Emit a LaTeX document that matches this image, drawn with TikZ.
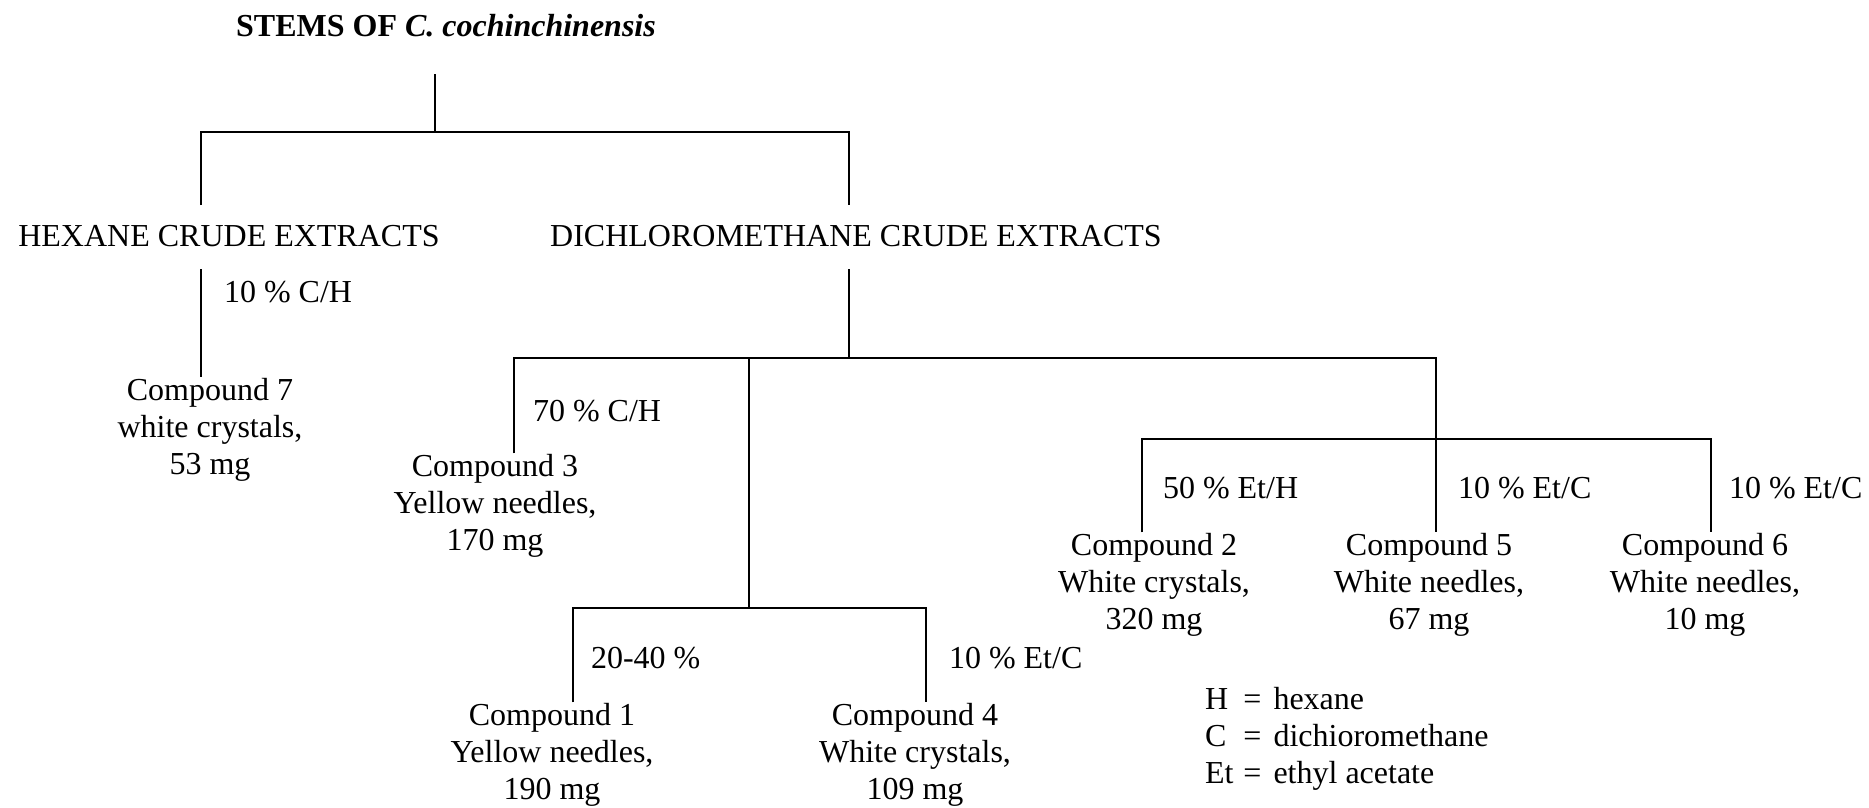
\documentclass[tikz,border=0pt]{standalone}
\usepackage{fontspec}
\setmainfont{Liberation Serif}
\begin{document}
\begin{tikzpicture}
[
    x = 0.25pt, y = -0.25pt,
    line width = 0.5pt,
    every node/.style = {inner sep = 0pt, font = \fontsize{8}{9.25}\selectfont},
    compound/.style = {align = center},
    solvent/.style = {anchor = west},
]
\useasboundingbox (0,0) rectangle (1869,807);

% plant and crude extracts
\node (stems) at (446,26) {\textbf{STEMS OF \textit{C. cochinchinensis}}};
\node (hexane) at (229,236) {HEXANE CRUDE EXTRACTS};
\node (dcm) at (856,236) {DICHLOROMETHANE CRUDE EXTRACTS};

% compounds
\node[compound] (c7) at (210,430) {Compound 7\\white crystals,\\53 mg};
\node[compound] (c3) at (495,506) {Compound 3\\Yellow needles,\\170 mg};
\node[compound] (c1) at (552,755) {Compound 1\\Yellow needles,\\190 mg};
\node[compound] (c4) at (915,755) {Compound 4\\White crystals,\\109 mg};
\node[compound] (c2) at (1154,585) {Compound 2\\White crystals,\\320 mg};
\node[compound] (c5) at (1429,585) {Compound 5\\White needles,\\67 mg};
\node[compound] (c6) at (1705,585) {Compound 6\\White needles,\\10 mg};

% eluents
\node[solvent] (e7) at (223,292) {10 \% C/H};
\node[solvent] (e3) at (532,411) {70 \% C/H};
\node[solvent] (e1) at (590,658) {20-40 \%};
\node[solvent] (e4) at (948,658) {10 \% Et/C};
\node[solvent] (e2) at (1162,488) {50 \% Et/H};
\node[solvent] (e5) at (1457,488) {10 \% Et/C};
\node[solvent] (e6) at (1728,488) {10 \% Et/C};

% key
\node[anchor = north west] (key) at (1204,683) {%
    \begin{tabular}{@{}l@{\hspace{2.5pt}}c@{\hspace{3pt}}l@{}}
        H  & = & hexane\\
        C  & = & dichioromethane\\
        Et & = & ethyl acetate
    \end{tabular}};

% lines
\coordinate (stem) at (435,74);
\coordinate (fork) at (435,132);
\coordinate (hexup) at (201,205);
\coordinate (dcmup) at (849,205);
\draw (stem) -- (fork);
\draw (hexup) |- (fork) -| (dcmup);

\coordinate (hexdown) at (201,269);
\draw (hexdown) -- (hexdown |- c7.north);

\coordinate (dcmdown) at (849,269);
\coordinate (fork2) at (849,358);
\coordinate (c3up) at (514,358);
\coordinate (c5up) at (1436,358);
\draw (dcmdown) -- (fork2);
\draw (c3up |- c3.north) -- (c3up) -- (c5up) -- (c5up |- c5.north);

\coordinate (fork3top) at (749,358);
\coordinate (fork3) at (749,608);
\coordinate (c1up) at (573,608);
\coordinate (c4up) at (926,608);
\draw (fork3top) -- (fork3);
\draw (c1up |- c1.north) -- (c1up) -- (c4up) -- (c4up |- c4.north);

\coordinate (c2up) at (1142,439);
\coordinate (c6up) at (1711,439);
\draw (c2up |- c2.north) -- (c2up) -- (c6up) -- (c6up |- c6.north);
\end{tikzpicture}
\end{document}
